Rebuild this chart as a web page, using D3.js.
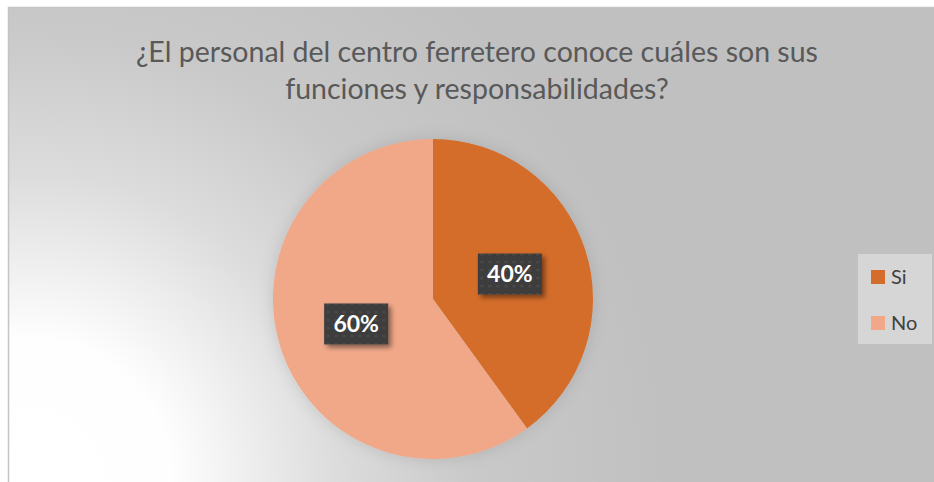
<!DOCTYPE html>
<html>
<head>
<meta charset="utf-8">
<script src="https://cdn.jsdelivr.net/npm/d3@7"></script>
<style>
  html, body { margin: 0; padding: 0; background: #ffffff; }
  svg { display: block; }
</style>
</head>
<body>
<div id="chart"></div>
<script>

var categories = ['Si', 'No'];
var values = [40, 60];
var colors = ['#D46D2B', '#F0A889'];
var titleLines = ['¿El personal del centro ferretero conoce cuáles son sus', 'funciones y responsabilidades?'];

window.onload = function(){

    buildChart();

};

function buildChart(){

    var width = 934;
    var height = 482;

    var svg = d3.select('#chart')
                .append('svg')
                .attr('width', width)
                .attr('height', height);

    var defs = svg.append('defs');

    // background: radial from bottom-left corner
    var grad = defs.append('radialGradient')
        .attr('id', 'bg')
        .attr('gradientUnits', 'userSpaceOnUse')
        .attr('cx', 30).attr('cy', 480).attr('r', 640);
    grad.append('stop').attr('offset', 0).attr('stop-color', '#ffffff');
    grad.append('stop').attr('offset', 0.22).attr('stop-color', '#fefefe');
    grad.append('stop').attr('offset', 0.48).attr('stop-color', '#dcdcdc');
    grad.append('stop').attr('offset', 0.7).attr('stop-color', '#c9c9c9');
    grad.append('stop').attr('offset', 1).attr('stop-color', '#c0c0c0');

    var pieShadow = defs.append('filter').attr('id', 'pieShadow')
        .attr('x', -0.2).attr('y', -0.2).attr('width', 1.4).attr('height', 1.4);
    pieShadow.append('feDropShadow')
        .attr('dx', 0).attr('dy', 0).attr('stdDeviation', 8)
        .attr('flood-color', '#000').attr('flood-opacity', 0.12);

    var boxShadow = defs.append('filter').attr('id', 'boxShadow')
        .attr('x', -0.3).attr('y', -0.3).attr('width', 1.6).attr('height', 1.6);
    boxShadow.append('feDropShadow')
        .attr('dx', 3).attr('dy', 3).attr('stdDeviation', 2.5)
        .attr('flood-color', '#000').attr('flood-opacity', 0.45);

    var dots = defs.append('pattern')
        .attr('id', 'dots')
        .attr('patternUnits', 'userSpaceOnUse')
        .attr('width', 8).attr('height', 8);
    dots.append('rect').attr('width', 8).attr('height', 8).attr('fill', '#3d3d3d');
    dots.append('circle').attr('cx', 4).attr('cy', 4).attr('r', 1.6).attr('fill', '#4a4a4a');

    svg.append('rect')
        .attr('x', 8).attr('y', 7)
        .attr('width', width - 8).attr('height', height - 7)
        .attr('fill', 'url(#bg)');

    // only top and left edges of the frame are visible
    svg.append('path')
        .attr('d', 'M8.5,' + height + 'V7.5H' + width)
        .attr('fill', 'none')
        .attr('stroke', '#c4c4c4')
        .attr('stroke-width', 1.5);

    // title
    var title = svg.append('text')
        .attr('text-anchor', 'middle')
        .attr('fill', '#595959')
        .style('font-family', 'Lato, "Open Sans", sans-serif')
        .style('font-weight', 400)
        .style('font-size', '28.5px');

    titleLines.forEach((line, i) => {
        title.append('tspan')
            .attr('x', 477)
            .attr('y', 62 + i * 37)
            .text(line);
    });

    // pie
    var cx = 433, cy = 299, radius = 160;

    var pie = d3.pie().sort(null).value(d => d);
    var arcs = pie(values);

    var arc = d3.arc().innerRadius(0).outerRadius(radius);
    var labelArc = d3.arc().innerRadius(radius * 0.505).outerRadius(radius * 0.505);

    var g = svg.append('g')
        .attr('transform', 'translate(' + cx + ',' + cy + ')');

    g.append('g')
        .attr('filter', 'url(#pieShadow)')
        .selectAll('path')
        .data(arcs)
        .enter()
        .append('path')
        .attr('d', arc)
        .attr('fill', (d, i) => colors[i]);

    var total = d3.sum(values);

    var labels = g.selectAll('.lbl')
        .data(arcs)
        .enter()
        .append('g')
        .attr('class', 'lbl')
        .attr('transform', d => 'translate(' + labelArc.centroid(d) + ')');

    labels.append('rect')
        .attr('x', -32).attr('y', -20.5)
        .attr('width', 64).attr('height', 41)
        .attr('fill', 'url(#dots)')
        .attr('filter', 'url(#boxShadow)');

    labels.append('text')
        .attr('text-anchor', 'middle')
        .attr('y', 8)
        .attr('fill', '#ffffff')
        .style('font-family', 'Lato, "Open Sans", sans-serif')
        .style('font-weight', 700)
        .style('font-size', '23px')
        .text(d => Math.round(d.value / total * 100) + '%');

    // legend
    var legend = svg.append('g');

    legend.append('rect')
        .attr('x', 858).attr('y', 254)
        .attr('width', 74).attr('height', 90)
        .attr('fill', '#d6d6d6');

    var items = legend.selectAll('.item')
        .data(categories)
        .enter()
        .append('g')
        .attr('class', 'item')
        .attr('transform', (d, i) => 'translate(871,' + (270 + i * 46) + ')');

    items.append('rect')
        .attr('width', 14).attr('height', 14)
        .attr('fill', (d, i) => colors[i]);

    items.append('text')
        .attr('x', 20)
        .attr('y', 14)
        .attr('fill', '#404040')
        .style('font-family', 'Lato, "Open Sans", sans-serif')
        .style('font-size', '20px')
        .text(d => d);

}
</script>
</body>
</html>
